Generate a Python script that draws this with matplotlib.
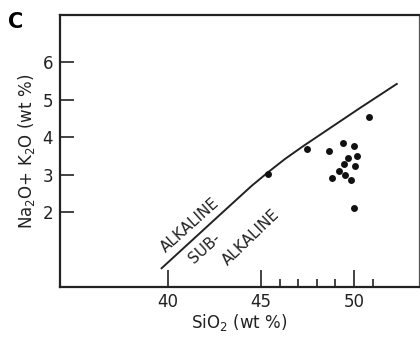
import numpy as np
import matplotlib.pyplot as plt

# alkaline / sub-alkaline dividing curve
line_sio2 = [39.66, 42.8, 44.5, 45.4, 46.3, 47.3, 48.8, 50.3, 52.3]
line_alk = [0.50, 1.93, 2.70, 3.07, 3.42, 3.77, 4.27, 4.77, 5.42]

# sample points
sio2 = [45.39, 47.46, 50.82, 49.43, 49.98, 48.67, 50.14, 49.68, 49.44,
        50.07, 49.21, 49.50, 48.84, 49.82, 50.02]
alk = [3.02, 3.69, 4.54, 3.84, 3.76, 3.62, 3.49, 3.43, 3.29,
       3.23, 3.10, 2.99, 2.91, 2.86, 2.10]

xticks = [40, 45, 50]
xminor = [46, 47, 48, 49, 51]
yticks = [2, 3, 4, 5, 6]

ink = '#222222'

fig = plt.figure(figsize=(4.2, 3.41), dpi=100)
ax = fig.add_axes([0.1429, 0.1584, 0.855, 0.7977])

ax.plot(line_sio2, line_alk, color=ink, lw=1.4)
ax.plot(sio2, alk, 'o', color='#111111', ms=5, mew=0)

ax.set_xlim(34.2, 53.5)
ax.set_ylim(0, 7.26)

ax.set_xticks(xticks)
ax.set_xticks(xminor, minor=True)
ax.set_yticks(yticks)
ax.tick_params(axis='x', which='major', direction='in', length=12, width=1.2,
               labelsize=12, pad=4, colors=ink)
ax.tick_params(axis='x', which='minor', direction='in', length=6, width=1.2,
               colors=ink)
ax.tick_params(axis='y', which='major', direction='in', length=10, width=1.2,
               labelsize=12, pad=5, colors=ink)

for side in ['left', 'top', 'bottom']:
    ax.spines[side].set_linewidth(1.6)
    ax.spines[side].set_color(ink)
ax.spines['right'].set_linewidth(0.9)
ax.spines['right'].set_color('#555555')

ax.set_xlabel('SiO$_2$ (wt %)', fontsize=12, color=ink, labelpad=1)
ax.set_ylabel('Na$_2$O+ K$_2$O (wt %)', fontsize=12, color=ink, labelpad=4)

ax.text(41.18, 1.66, 'ALKALINE', rotation=42, fontsize=11, ha='center', va='center',
        color=ink)
ax.text(41.99, 1.04, 'SUB-', rotation=42, fontsize=11, ha='center', va='center',
        color=ink)
ax.text(44.46, 1.31, 'ALKALINE', rotation=44, fontsize=11, ha='center', va='center',
        color=ink)

fig.text(0.018, 0.965, 'C', fontsize=15, fontweight='bold', ha='left', va='top')

fig.savefig('out.png', dpi=100)
